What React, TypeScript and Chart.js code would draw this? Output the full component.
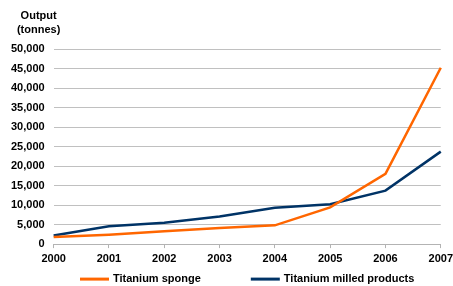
import React, { useEffect, useRef } from "react";
import { Chart, registerables } from "chart.js";

Chart.register(...registerables);

const years = ["2000", "2001", "2002", "2003", "2004", "2005", "2006", "2007"];
const spongeValues = [1800, 2400, 3300, 4100, 4800, 9400, 18000, 45200];
const milledValues = [2200, 4600, 5500, 7100, 9300, 10200, 13700, 23700];
const axisTitleLines = ["Output", "(tonnes)"];

const FONT_FAMILY = "'Liberation Sans', Arial, sans-serif";

const axisTitlePlugin = {
  id: "axisTitle",
  afterDraw(chart: any) {
    const { ctx, chartArea } = chart;
    ctx.save();
    ctx.font = `bold 11px ${FONT_FAMILY}`;
    ctx.fillStyle = "#000";
    ctx.textAlign = "center";
    ctx.textBaseline = "middle";
    const cx = chartArea.left - 15;
    ctx.fillText(axisTitleLines[0], cx, chartArea.top - 33);
    ctx.fillText(axisTitleLines[1], cx, chartArea.top - 19);
    ctx.restore();
  },
};

// Bottom legend: line sample + label, centred under the plot area
const lineLegendPlugin = {
  id: "lineLegend",
  afterDraw(chart: any) {
    const { ctx, chartArea } = chart;
    const sample = 29;
    const textGap = 4;
    const itemGap = 50;
    ctx.save();
    ctx.font = `bold 11px ${FONT_FAMILY}`;
    const items = chart.data.datasets.map((ds: any) => ({
      label: ds.label as string,
      color: ds.borderColor as string,
      w: sample + textGap + ctx.measureText(ds.label).width,
    }));
    const total = items.reduce((s: number, it: any) => s + it.w, 0) + itemGap * (items.length - 1);
    let x = (chartArea.left + chartArea.right) / 2 - total / 2;
    const y = chartArea.bottom + 35;
    items.forEach((it: any) => {
      ctx.strokeStyle = it.color;
      ctx.lineWidth = 3;
      ctx.beginPath();
      ctx.moveTo(x, y);
      ctx.lineTo(x + sample, y);
      ctx.stroke();
      ctx.fillStyle = "#000";
      ctx.textAlign = "left";
      ctx.textBaseline = "middle";
      ctx.fillText(it.label, x + sample + textGap, y);
      x += it.w + itemGap;
    });
    ctx.restore();
  },
};

export default function App() {
  const ref = useRef<HTMLCanvasElement | null>(null);
  useEffect(() => {
    document.body.style.margin = "0";
    const font = { family: FONT_FAMILY, size: 11, weight: "bold" as const };
    const chart = new Chart(ref.current!, {
      type: "line",
      data: {
        labels: years,
        datasets: [
          {
            label: "Titanium sponge",
            data: spongeValues,
            borderColor: "#FF6600",
            backgroundColor: "#FF6600",
            borderWidth: 2.5,
            pointRadius: 0,
            tension: 0,
          },
          {
            label: "Titanium milled products",
            data: milledValues,
            borderColor: "#003366",
            backgroundColor: "#003366",
            borderWidth: 2.5,
            pointRadius: 0,
            tension: 0,
          },
        ],
      },
      options: {
        responsive: false,
        animation: false,
        layout: { padding: { top: 49, left: 2, right: 9, bottom: 17 } },
        plugins: {
          title: { display: false },
          tooltip: { enabled: false },
          legend: { display: false },
        },
        scales: {
          x: {
            offset: false,
            grid: { drawOnChartArea: false, drawTicks: true, tickLength: 4, color: "#b3b3b3" },
            border: { display: true, color: "#b3b3b3" },
            ticks: {
              color: "#000",
              font: { ...font, lineHeight: 1.9 },
              padding: 0,
              maxRotation: 0,
              autoSkip: false,
            },
          },
          y: {
            min: 0,
            max: 50000,
            grid: { color: "#c0c0c0", drawTicks: false },
            border: { display: false },
            ticks: {
              stepSize: 5000,
              autoSkip: false,
              color: "#000",
              font,
              padding: 9,
              callback: (v: any) => Number(v).toLocaleString("en-US"),
            },
          },
        },
      },
      plugins: [axisTitlePlugin, lineLegendPlugin],
    });
    return () => chart.destroy();
  }, []);
  return <canvas ref={ref} width={453} height={286} style={{ display: "block" }} />;
}
